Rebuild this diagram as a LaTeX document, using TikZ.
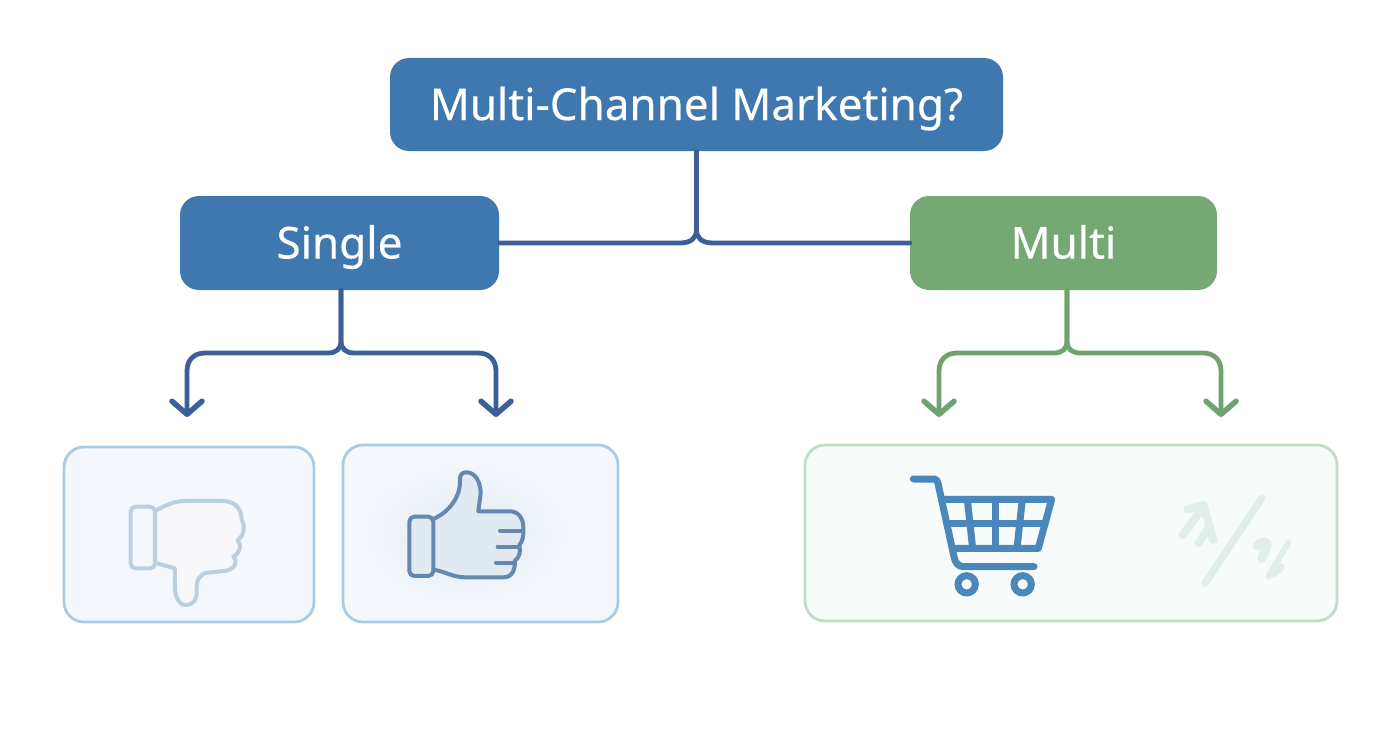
\documentclass[tikz,border=0pt]{standalone}
\usepackage{fontspec}
\setmainfont[FakeBold=0.35]{Noto Sans}
\usetikzlibrary{arrows.meta}
\definecolor{topblue}{HTML}{3F78AF}
\definecolor{multigreen}{HTML}{75A873}
\definecolor{linkblue}{HTML}{3B5F98}
\definecolor{linkgreen}{HTML}{6FA26F}
\definecolor{panelblue}{HTML}{F4F8FC}
\definecolor{panelgreen}{HTML}{F7FBF9}
\definecolor{edgeblue}{HTML}{A9CBE6}
\definecolor{edgegreen}{HTML}{C2DCC8}
\definecolor{carticon}{HTML}{4A87BA}
\definecolor{upline}{HTML}{6488AF}
\definecolor{upfill}{HTML}{E1E9F3}
\definecolor{glow}{HTML}{E4EBF5}
\definecolor{downline}{HTML}{BCCFDF}
\definecolor{downfill}{HTML}{F7F7FA}
\definecolor{pctline}{HTML}{E2EEEA}
\tikzset{
  x=1pt,y=-1pt,
  headbox/.style={rectangle,rounded corners=19pt,inner sep=0pt,text=white,font=\fontsize{44}{48}\selectfont,text height=35pt,text depth=4pt,anchor=center},
  panel/.style={rectangle,rounded corners=20pt,inner sep=0pt,line width=2.8pt,anchor=center},
  conn/.style={line width=4.8pt,line cap=round,line join=round},
  arrowconn/.style={conn,-{Straight Barb[length=13pt,width=30pt,line width=5.5pt,round]}},
  icon/.style={line width=4pt,line join=round,line cap=round},
}
\begin{document}
\begin{tikzpicture}
\useasboundingbox (0,0) rectangle (1392,752);
\fill[white] (0,0) rectangle (1392,752);

% panels
\node[panel,draw=edgeblue,fill=panelblue,minimum width=250pt,minimum height=175pt] (pdown) at (189,534.5) {};
\node[panel,draw=edgeblue,fill=panelblue,minimum width=275pt,minimum height=177pt] (pup) at (480.5,533.5) {};
\node[panel,draw=edgegreen,fill=panelgreen,minimum width=532pt,minimum height=176pt] (pshop) at (1071,533) {};
\shade[inner color=glow,outer color=panelblue] (466,533) ellipse [x radius=115,y radius=80];

% heads
\node[headbox,fill=topblue,minimum width=613pt,minimum height=93pt] (top) at (696.5,104.5) {Multi-Channel Marketing?};
\node[headbox,fill=topblue,minimum width=319pt,minimum height=94pt] (single) at (339.5,243) {Single};
\node[headbox,fill=multigreen,minimum width=307pt,minimum height=94pt] (multi) at (1063.5,243) {Multi};

% connectors from the top
\draw[conn,linkblue] (top.south) -- (696.5,230) .. controls (696.5,238) and (691,243) .. (680,243) -- (single.east);
\draw[conn,linkblue] (top.south) -- (696.5,230) .. controls (696.5,238) and (702,243) .. (713,243) -- (multi.west);

% arrows under Single
\coordinate (sl) at (187,417);
\coordinate (sr) at (496,417);
\coordinate (st) at (341,290);
\draw[arrowconn,linkblue] (st) -- (341,341) .. controls (341,349) and (336,353) .. (328,353) -- (205,353) .. controls (194,353) and (187,360) .. (187,371) -- (sl);
\draw[arrowconn,linkblue] (st) -- (341,341) .. controls (341,349) and (346,353) .. (354,353) -- (478,353) .. controls (489,353) and (496,360) .. (496,371) -- (sr);

% arrows under Multi
\coordinate (ml) at (939,417);
\coordinate (mr) at (1221,417);
\coordinate (mt) at (1067,290);
\draw[arrowconn,linkgreen] (mt) -- (1067,341) .. controls (1067,349) and (1062,353) .. (1054,353) -- (957,353) .. controls (946,353) and (939,360) .. (939,371) -- (ml);
\draw[arrowconn,linkgreen] (mt) -- (1067,341) .. controls (1067,349) and (1072,353) .. (1080,353) -- (1203,353) .. controls (1214,353) and (1221,360) .. (1221,371) -- (mr);

% thumb down
\begin{scope}[shift={(60,440)},x=0.3333pt,y=-0.3333pt]
\draw[icon,downline,fill=downfill]
  (290,210) .. controls (320,195) and (345,183) .. (375,183) -- (490,183)
  .. controls (525,185) and (545,205) .. (545,240)
  .. controls (555,255) and (555,285) .. (533,300)
  .. controls (547,315) and (540,340) .. (520,350)
  .. controls (535,365) and (525,385) .. (500,392)
  -- (445,398) .. controls (420,400) and (408,420) .. (410,450)
  .. controls (412,480) and (398,495) .. (378,495)
  .. controls (355,495) and (345,470) .. (345,440) -- (345,385)
  -- (290,370);
\draw[icon,downline,fill=panelblue,rounded corners=5pt] (212,200) rectangle (285,385);
\end{scope}

% thumb up
\begin{scope}[shift={(340,440)},x=0.3333pt,y=-0.3333pt]
\draw[icon,upline,fill=upfill]
  (285,235) .. controls (325,215) and (360,175) .. (360,125)
  .. controls (358,105) and (365,97) .. (380,97)
  .. controls (405,97) and (422,125) .. (422,160) -- (415,214) -- (510,214)
  .. controls (535,214) and (550,235) .. (550,262)
  .. controls (552,285) and (548,305) .. (538,315)
  .. controls (542,335) and (540,350) .. (525,362)
  .. controls (525,385) and (520,412) .. (490,412)
  -- (375,412) .. controls (340,412) and (315,395) .. (285,390);
\draw[icon,upline] (480,272) -- (545,272);
\draw[icon,upline] (473,320) -- (538,320);
\draw[icon,upline] (468,368) -- (525,368);
\draw[icon,upline,fill=upfill,rounded corners=5pt] (208,230) rectangle (280,408);
\end{scope}

% cart
\begin{scope}[shift={(880,460)},x=0.3333pt,y=-0.3333pt]
\begin{scope}[line width=7pt,line cap=round,line join=round]
\draw[carticon] (100,57) -- (162,57) .. controls (170,57) and (172,62) .. (174,70) -- (222,290) .. controls (226,310) and (235,320) .. (252,320) -- (462,320);
\draw[carticon] (190,118) -- (515,118) -- (475,265) -- (218,265);
\draw[carticon] (200,190) -- (495,190);
\draw[carticon] (262,118) -- (278,265);
\draw[carticon] (345,118) -- (345,265);
\draw[carticon] (427,118) -- (411,265);
\draw[carticon] (260,373) circle [radius=26];
\draw[carticon] (428,373) circle [radius=26];
\end{scope}
\end{scope}

% percent-like mark
\begin{scope}[shift={(1150,470)},x=0.3333pt,y=-0.3333pt]
\begin{scope}[line cap=round,line join=round]
\draw[pctline,line width=7.5pt] (335,85) -- (165,340);
\draw[pctline,line width=8pt] (112,118) -- (160,105) -- (190,210);
\draw[pctline,line width=8pt] (98,195) -- (150,125);
\draw[pctline,line width=8pt] (145,220) -- (175,175);
\draw[pctline,line width=9pt] (322,228) .. controls (335,208) and (358,212) .. (350,232) -- (335,265);
\draw[pctline,line width=6pt] (415,218) -- (355,320);
\draw[pctline,line width=8pt] (392,292) -- (365,312);
\end{scope}
\end{scope}
\end{tikzpicture}
\end{document}
